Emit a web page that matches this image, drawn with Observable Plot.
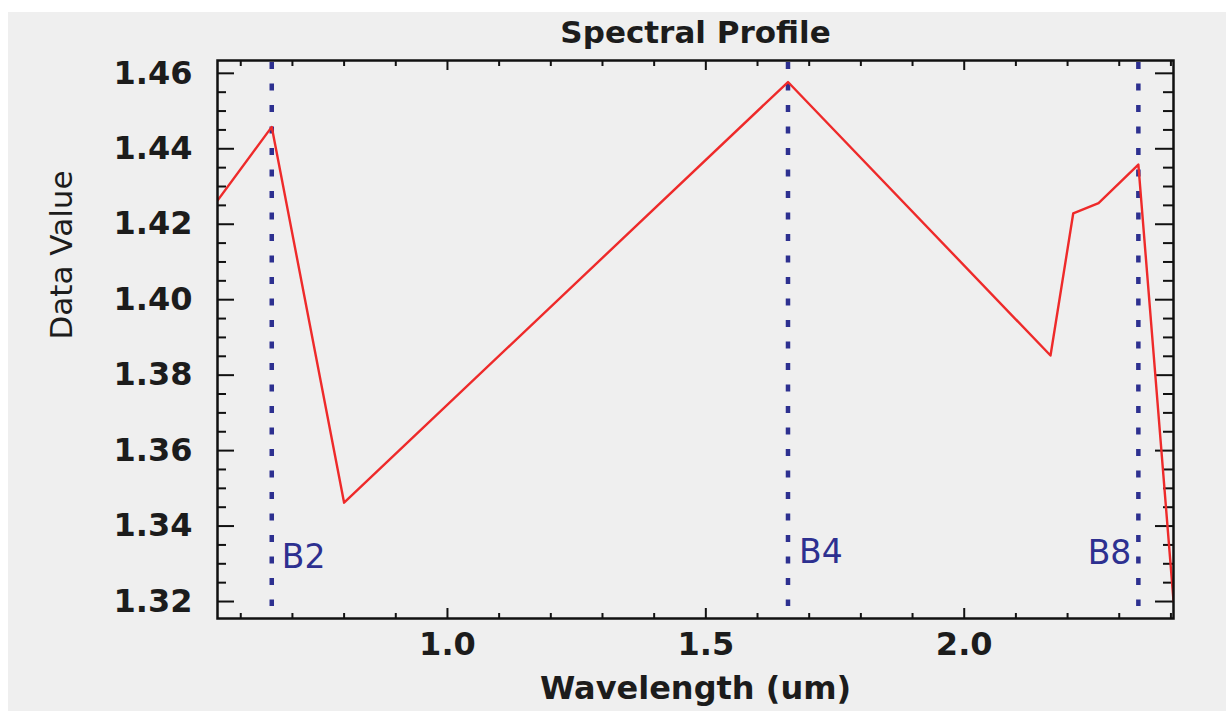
<!DOCTYPE html>
<html>
<head>
<meta charset="utf-8">
<script src="https://cdn.jsdelivr.net/npm/d3@7"></script>
<script src="https://cdn.jsdelivr.net/npm/@observablehq/plot@0.6"></script>
<style>
  html, body { margin: 0; padding: 0; background: #ffffff; }
  #chart { position: absolute; left: 8px; top: 12px; width: 1218px; height: 699px; background: #efefef; }
  #chart svg { display: block; background: #efefef; }
</style>
</head>
<body>
<div id="chart"></div>
<script>
// ---- data ----
const wavelength = [0.555, 0.660, 0.800, 1.659, 2.167, 2.211, 2.260, 2.337, 2.405];
const dataValue  = [1.4263, 1.4458, 1.3462, 1.4577, 1.3852, 1.4229, 1.4256, 1.4358, 1.3202];
const bandNames      = ["B2", "B4", "B8"];
const bandWavelength = [0.660, 1.659, 2.337];
const xMajorTicks = [1.0, 1.5, 2.0];
const xMinorTicks = [0.6, 0.7, 0.8, 0.9, 1.1, 1.2, 1.3, 1.4, 1.6, 1.7, 1.8, 1.9, 2.1, 2.2, 2.3, 2.4];
const yMajorTicks = [1.32, 1.34, 1.36, 1.38, 1.40, 1.42, 1.44, 1.46];
const yMinorTicks = [1.325, 1.33, 1.335, 1.345, 1.35, 1.355, 1.365, 1.37, 1.375, 1.385, 1.39, 1.395,
                     1.405, 1.41, 1.415, 1.425, 1.43, 1.435, 1.445, 1.45, 1.455];
const xDomain = [0.555, 2.405];
const yDomain = [1.3155, 1.4634];
const titleText = "Spectral Profile";
const xLabel = "Wavelength (um)";
const yLabel = "Data Value";

// ---- layout ----
const W = 1218, H = 699;
const mL = 209, mT = 48, mR = 53, mB = 93;
const innerW = W - mL - mR, innerH = H - mT - mB;

const points = wavelength.map((w, i) => ({w, v: dataValue[i]}));
const bands = bandNames.map((b, i) => ({name: b, w: bandWavelength[i]}));

const font = "'DejaVu Sans', sans-serif";
const blue = "#2d3090";
const ink = "#1c1c1c";

function bandLabel(name, opts) {
  return Plot.text(bands.filter(d => d.name === name), {x: "w", text: "name", frameAnchor: "bottom",
    lineAnchor: "middle", fontSize: 33, fill: blue, fontFamily: font, ...opts});
}

const chart = Plot.plot({
  width: W, height: H,
  marginLeft: mL, marginTop: mT, marginRight: mR, marginBottom: mB,
  style: {background: "#efefef", color: ink, fontFamily: font},
  x: {domain: xDomain},
  y: {domain: yDomain},
  marks: [
    // tick labels
    Plot.axisX(xMajorTicks, {tickSize: 0, tickPadding: 14, tickFormat: d3.format(".1f"),
      fontSize: 32, fontWeight: "bold", fill: ink, label: null}),
    Plot.axisY(yMajorTicks, {tickSize: 0, tickPadding: 25, tickFormat: d3.format(".2f"),
      fontSize: 32, fontWeight: "bold", fill: ink, label: null}),
    // inward ticks: bottom & top
    Plot.ruleX(xMajorTicks, {x: d => d, insetTop: innerH - 10, stroke: "#111", strokeWidth: 2}),
    Plot.ruleX(xMinorTicks, {x: d => d, insetTop: innerH - 5, stroke: "#111", strokeWidth: 2}),
    Plot.ruleX(xMajorTicks, {x: d => d, insetBottom: innerH - 10, stroke: "#111", strokeWidth: 2}),
    Plot.ruleX(xMinorTicks, {x: d => d, insetBottom: innerH - 6, stroke: "#111", strokeWidth: 2}),
    // inward ticks: left & right
    Plot.ruleY(yMajorTicks, {y: d => d, insetRight: innerW - 17, stroke: "#111", strokeWidth: 2}),
    Plot.ruleY(yMinorTicks, {y: d => d, insetRight: innerW - 9, stroke: "#111", strokeWidth: 2}),
    Plot.ruleY(yMajorTicks, {y: d => d, insetLeft: innerW - 18, stroke: "#111", strokeWidth: 2}),
    Plot.ruleY(yMinorTicks, {y: d => d, insetLeft: innerW - 10, stroke: "#111", strokeWidth: 2}),
    // band lines
    Plot.ruleX(bands, {x: "w", insetBottom: 12, insetTop: 2, stroke: blue, strokeWidth: 4.5, strokeDasharray: "7,14.5"}),
    bandLabel("B2", {dy: -61, dx: 10, textAnchor: "start"}),
    bandLabel("B4", {dy: -66, dx: 11, textAnchor: "start"}),
    bandLabel("B8", {dy: -65, dx: -7, textAnchor: "end"}),
    // spectrum
    Plot.line(points, {x: "w", y: "v", stroke: "#ee2a2a", strokeWidth: 2.4, clip: true}),
    // frame
    Plot.frame({stroke: "#111", strokeWidth: 2.5}),
    // titles
    Plot.text([titleText], {frameAnchor: "top", dy: -27, lineAnchor: "middle", fontSize: 31,
      fontWeight: "bold", fill: ink, text: d => d}),
    Plot.text([xLabel], {frameAnchor: "bottom", dy: 70, lineAnchor: "middle", fontSize: 32,
      fontWeight: "bold", fill: ink, text: d => d}),
    Plot.text([yLabel], {frameAnchor: "left", dx: -155, rotate: -90, lineAnchor: "middle", fontSize: 31,
      fill: ink, text: d => d})
  ]
});
document.getElementById("chart").appendChild(chart);
</script>
</body>
</html>
